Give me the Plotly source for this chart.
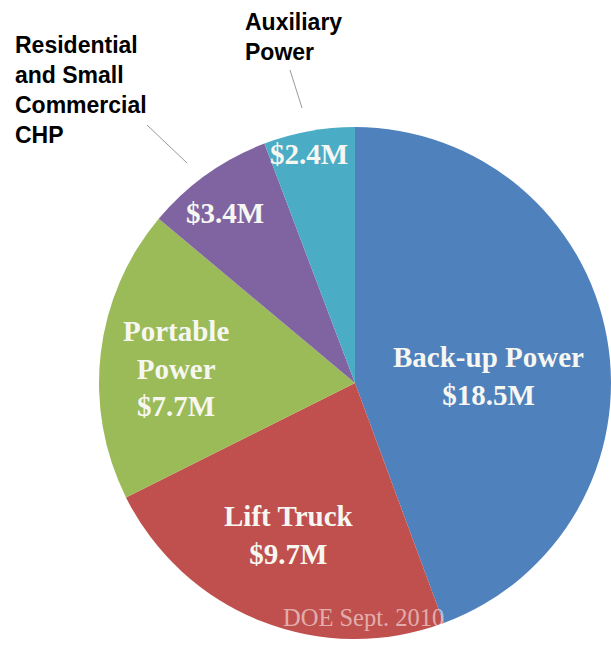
import math
import plotly.graph_objects as go

# ---- data ----
categories = ["Back-up Power", "Lift Truck", "Portable Power",
              "Residential and Small Commercial CHP", "Auxiliary Power"]
values = [18.5, 9.7, 7.7, 3.4, 2.4]          # $ millions
inside_names = ["Back-up Power", "Lift Truck", "Portable<br>Power", "", ""]
outside_names = ["", "", "", "Residential<br>and Small<br>Commercial<br>CHP", "Auxiliary<br>Power"]
colors = ["#4F81BD", "#C0504D", "#9BBB59", "#8064A2", "#4BACC6"]
source_note = "DOE Sept. 2010"

# ---- layout constants (pixels) ----
W, H = 611, 646
cx, cy, R = 355, 383, 256
label_r = [134, 166, 180, 214, 234]           # radial distance of each slice label
label_dang = [7, 2, -2, -2, -1]               # angular nudge (deg)

def px2paper(x, y):
    return x / W, 1 - y / H

dom_x = [(cx - R) / W, min(1.0, (cx + R) / W)]
dom_y = [1 - (cy + R) / H, 1 - (cy - R) / H]

fig = go.Figure(go.Pie(
    labels=categories, values=values, sort=False, direction="clockwise",
    rotation=0, marker=dict(colors=colors, line=dict(width=0)),
    textinfo="none", hoverinfo="skip", showlegend=False,
    domain=dict(x=dom_x, y=dom_y),
))

annotations = []
total = sum(values)
cum = 0.0
for i, v in enumerate(values):
    mid = (cum + v / 2) / total * 360 + label_dang[i]
    cum += v
    th = math.radians(mid)
    x = cx + label_r[i] * math.sin(th)
    y = cy - label_r[i] * math.cos(th)
    name = inside_names[i]
    txt = (name + "<br>" if name else "") + f"${v}M"
    px, py = px2paper(x, y)
    annotations.append(dict(
        x=px, y=py, xref="paper", yref="paper", showarrow=False,
        text=f"<b>{txt}</b>", xanchor="center", yanchor="middle",
        font=dict(family="Liberation Serif", size=29, color="#F7F7F2"),
    ))

# outside labels
ax, ay = px2paper(13, 90)
annotations.append(dict(x=ax, y=ay, xref="paper", yref="paper", showarrow=False,
                        text=f"<b>{outside_names[3]}</b>", xanchor="left", yanchor="middle",
                        align="left", font=dict(family="Liberation Sans", size=23, color="black")))
ax, ay = px2paper(243, 37)
annotations.append(dict(x=ax, y=ay, xref="paper", yref="paper", showarrow=False,
                        text=f"<b>{outside_names[4]}</b>", xanchor="left", yanchor="middle",
                        align="left", font=dict(family="Liberation Sans", size=23, color="black")))
# source note
ax, ay = px2paper(363, 617)
annotations.append(dict(x=ax, y=ay, xref="paper", yref="paper", showarrow=False,
                        text=source_note, xanchor="center", yanchor="middle",
                        font=dict(family="Liberation Serif", size=24.5, color="rgba(255,255,255,0.55)")))

shapes = []
for (x0, y0, x1, y1) in [(290, 70, 302, 108), (147, 125, 187, 163)]:
    a0, b0 = px2paper(x0, y0)
    a1, b1 = px2paper(x1, y1)
    shapes.append(dict(type="line", xref="paper", yref="paper", x0=a0, y0=b0, x1=a1, y1=b1,
                       line=dict(color="#9A9A9A", width=1)))

fig.update_layout(
    width=W, height=H, margin=dict(l=0, r=0, t=0, b=0),
    paper_bgcolor="white", plot_bgcolor="white",
    annotations=annotations, shapes=shapes,
)

fig.write_html("out.html",
               config={"displayModeBar": False},
               post_script="document.body.style.margin='0';"
                           "document.body.style.overflow='hidden';"
                           "document.documentElement.style.overflow='hidden';")
